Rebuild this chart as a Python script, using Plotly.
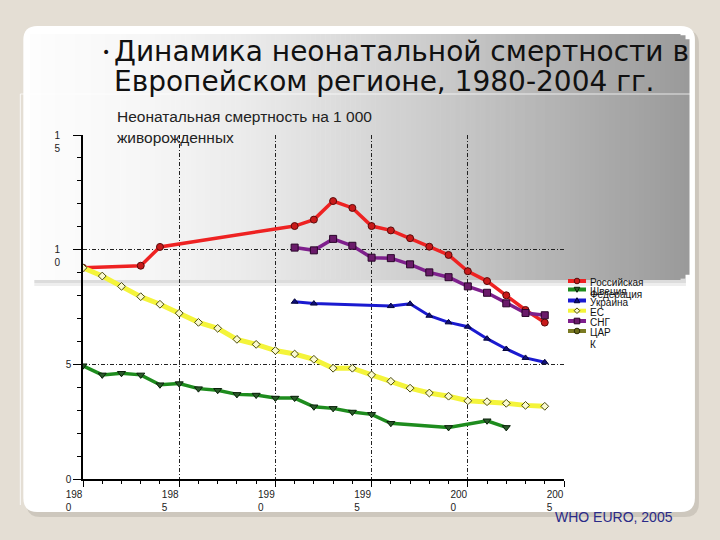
import math
import plotly.graph_objects as go

# ---------------- data ----------------
years_rus = [1980, 1983, 1984, 1991, 1992, 1993, 1994, 1995, 1996, 1997, 1998, 1999, 2000, 2001, 2002, 2003, 2004]
rus = [9.21, 9.30, 10.12, 11.03, 11.31, 12.12, 11.82, 11.03, 10.84, 10.50, 10.13, 9.77, 9.06, 8.63, 8.01, 7.37, 6.82]

years_swe = [1980, 1981, 1982, 1983, 1984, 1985, 1986, 1987, 1988, 1989, 1990, 1991, 1992, 1993, 1994, 1995, 1996, 1999, 2001, 2002]
swe = [4.94, 4.54, 4.61, 4.54, 4.11, 4.16, 3.94, 3.87, 3.69, 3.66, 3.53, 3.53, 3.15, 3.08, 2.92, 2.82, 2.43, 2.25, 2.54, 2.25]

years_ukr = [1991, 1992, 1996, 1997, 1998, 1999, 2000, 2001, 2002, 2003, 2004]
ukr = [7.73, 7.65, 7.54, 7.64, 7.12, 6.83, 6.64, 6.12, 5.67, 5.28, 5.09]

years_eu = list(range(1980, 2005))
eu = [9.21, 8.85, 8.40, 7.95, 7.62, 7.23, 6.83, 6.57, 6.09, 5.87, 5.60, 5.45, 5.22, 4.83, 4.83,
      4.54, 4.26, 3.96, 3.75, 3.61, 3.41, 3.37, 3.30, 3.21, 3.17]

years_cis = list(range(1991, 2005))
cis = [10.09, 9.97, 10.47, 10.17, 9.65, 9.63, 9.36, 9.01, 8.80, 8.40, 8.12, 7.66, 7.24, 7.14]

years_cark = []
cark = []

x_tickvals = [1980, 1985, 1990, 1995, 2000, 2005]
x_ticktext = ["198<br>0", "198<br>5", "199<br>0", "199<br>5", "200<br>0", "200<br>5"]
y_tickvals = [0, 5, 10, 15]
y_ticktext = ["0", "5", "1<br>0", "1<br>5"]

title_lines = ["Динамика неонатальной смертности в", "Европейском регионе, 1980-2004 гг."]
subtitle_lines = ["Неонатальная смертность на 1 000", "живорожденных"]
source_text = "WHO EURO, 2005"

# ---------------- layout geometry (pixels) ----------------
FW, FH = 720, 540
L, R = 82.7, 564.0
T, B = 135.0, 479.0
PW, PH = R - L, B - T


def xp(px):
    return (px - L) / PW


def yp(py):
    return (B - py) / PH


NB = "\u00a0"
x_ticktext = [t + NB * 4 for t in x_ticktext]
y_ticktext_fmt = []
for t in y_ticktext:
    if "<br>" in t:
        parts = t.split("<br>")
        y_ticktext_fmt.append(NB + "<br>" + "<br>".join(p + NB * 4 for p in parts))
    else:
        y_ticktext_fmt.append(t)

series = [
    dict(name="Российская Федерация", x=years_rus, y=rus, color="#ee2222", w=3.5,
         sym="circle", msize=7, mfill="#c81a1a", mline="#5a0a0a"),
    dict(name="Швеция", x=years_swe, y=swe, color="#1e8c1e", w=3.5,
         sym="triangle-down", msize=7, mfill="#2a5a2a", mline="#0a200a"),
    dict(name="Украина", x=years_ukr, y=ukr, color="#1a1ad0", w=3.0,
         sym="triangle-up", msize=6, mfill="#10107a", mline="#05053a"),
    dict(name="ЕС", x=years_eu, y=eu, color="#f4f43a", w=5.0,
         sym="diamond", msize=6, mfill="#fafad0", mline="#4a4a10"),
    dict(name="СНГ", x=years_cis, y=cis, color="#7e1f8c", w=3.5,
         sym="square", msize=7, mfill="#6a1a6a", mline="#2a052a"),
    dict(name="ЦАРК", x=years_cark, y=cark, color="#7a7a22", w=3.5,
         sym="circle", msize=6, mfill="#6a6a1a", mline="#2a2a05"),
]

fig = go.Figure()
for s in series:
    fig.add_trace(go.Scatter(
        x=s["x"], y=s["y"], name=s["name"], mode="lines+markers",
        line=dict(color=s["color"], width=s["w"]),
        marker=dict(symbol=s["sym"], size=s["msize"], color=s["mfill"],
                    line=dict(color=s["mline"], width=1)),
        showlegend=False,
    ))

shapes = []


def rect(x0, y0, x1, y1, color, layer="below"):
    shapes.append(dict(type="rect", xref="paper", yref="paper",
                       x0=xp(x0), x1=xp(x1), y0=yp(y0), y1=yp(y1),
                       fillcolor=color, line=dict(width=0), layer=layer))


def rounded(x0, y0, x1, y1, r, color, layer="below"):
    p = (f"M {xp(x0 + r)},{yp(y0)} L {xp(x1 - r)},{yp(y0)} Q {xp(x1)},{yp(y0)} {xp(x1)},{yp(y0 + r)} "
         f"L {xp(x1)},{yp(y1 - r)} Q {xp(x1)},{yp(y1)} {xp(x1 - r)},{yp(y1)} "
         f"L {xp(x0 + r)},{yp(y1)} Q {xp(x0)},{yp(y1)} {xp(x0)},{yp(y1 - r)} "
         f"L {xp(x0)},{yp(y0 + r)} Q {xp(x0)},{yp(y0)} {xp(x0 + r)},{yp(y0)} Z")
    shapes.append(dict(type="path", xref="paper", yref="paper", path=p,
                       fillcolor=color, line=dict(width=0), layer=layer))


# card shadow + card
rounded(26, 30, 699, 517, 14, "#cdc7bd")
rounded(23, 26, 695, 512, 14, "#ffffff")

# header gradient box
stops = [(30, 253), (150, 246), (250, 234), (350, 218), (450, 200), (550, 180), (689, 154)]


def gray_at(px):
    for (a, ga), (b, gb) in zip(stops[:-1], stops[1:]):
        if a <= px <= b:
            return ga + (gb - ga) * (px - a) / (b - a)
    return stops[-1][1]


# soft shadow under header
rect(34, 279, 686, 283, "#dcdcdc")
rect(34, 283, 686, 286, "#eeeeee")

step = 5
x = 30
rr = 12
while x < 689:
    x2 = min(x + step, 689)
    g = int(round(gray_at((x + x2) / 2)))
    col = f"rgb({g},{g},{g})"
    y0, y1 = 34, 280
    if x2 > 689 - rr:
        t = (x + x2) / 2 - (689 - rr)
        off = rr - math.sqrt(max(rr * rr - t * t, 0))
        y0, y1 = 34 + off, 280 - off
    rect(x, y0, x2 + 0.6, y1, col)
    x = x2

# faint placeholder outlines
shapes.append(dict(type="line", xref="paper", yref="paper", x0=xp(20), x1=xp(690), y0=yp(94), y1=yp(94),
                   line=dict(color="rgba(255,255,255,0.75)", width=1), layer="below"))
shapes.append(dict(type="line", xref="paper", yref="paper", x0=xp(20), x1=xp(20), y0=yp(94), y1=yp(505),
                   line=dict(color="rgba(255,255,255,0.8)", width=1), layer="below"))

# manual legend swatches
leg_line_y = [281, 289.5, 300.5, 310.7, 321, 331]
for s, ly in zip(series, leg_line_y):
    shapes.append(dict(type="line", xref="paper", yref="paper", x0=xp(568), x1=xp(586),
                       y0=yp(ly), y1=yp(ly), line=dict(color=s["color"], width=4), layer="above"))
    cx, r = 577, 2.8
    if s["sym"] == "circle":
        shapes.append(dict(type="circle", xref="paper", yref="paper", x0=xp(cx - r), x1=xp(cx + r),
                           y0=yp(ly + r), y1=yp(ly - r), fillcolor=s["mfill"],
                           line=dict(color=s["mline"], width=1), layer="above"))
    elif s["sym"] == "square":
        shapes.append(dict(type="rect", xref="paper", yref="paper", x0=xp(cx - r), x1=xp(cx + r),
                           y0=yp(ly + r), y1=yp(ly - r), fillcolor=s["mfill"],
                           line=dict(color=s["mline"], width=1), layer="above"))
    else:
        if s["sym"] == "triangle-up":
            pts = [(cx - r, ly + r * 0.8), (cx + r, ly + r * 0.8), (cx, ly - r)]
        elif s["sym"] == "triangle-down":
            pts = [(cx - r, ly - r * 0.8), (cx + r, ly - r * 0.8), (cx, ly + r)]
        else:
            pts = [(cx - r, ly), (cx, ly - r), (cx + r, ly), (cx, ly + r)]
        p = "M " + " L ".join(f"{xp(a)},{yp(b)}" for a, b in pts) + " Z"
        shapes.append(dict(type="path", xref="paper", yref="paper", path=p, fillcolor=s["mfill"],
                           line=dict(color=s["mline"], width=1), layer="above"))

annotations = []


def text(px, py, s, size, color="#111111", family="Liberation Sans, Arial", xanchor="left"):
    annotations.append(dict(xref="paper", yref="paper", x=xp(px), y=yp(py), text=s, showarrow=False,
                            xanchor=xanchor, yanchor="middle", align="left",
                            font=dict(size=size, color=color, family=family)))


leg_text = [(282, "Российская"), (294, "Федерация"), (291.5, "Швеция"), (302, "Украина"),
            (312, "ЕС"), (322.3, "СНГ"), (332.3, "ЦАР"), (344, "К")]
for ty, s in leg_text:
    text(588, ty, s, 10, "#111111")

# title
text(100, 52, "•", 14, "#111111", "DejaVu Sans")
text(112, 51, title_lines[0], 28, "#111111", "DejaVu Sans")
text(112, 82, title_lines[1], 28, "#111111", "DejaVu Sans")
text(115, 117, subtitle_lines[0], 15.5, "#222222")
text(115, 137, subtitle_lines[1], 15.5, "#222222")
text(553, 517, source_text, 14, "#2a2a88")

fig.update_layout(
    width=FW, height=FH,
    margin=dict(l=L, r=FW - R, t=T, b=FH - B, pad=0),
    paper_bgcolor="#e4ded4", plot_bgcolor="rgba(0,0,0,0)",
    shapes=shapes, annotations=annotations, showlegend=False,
    font=dict(family="Liberation Sans, Arial", size=10, color="#222222"),
)
fig.update_xaxes(
    range=[1980, 2005], tickvals=x_tickvals, ticktext=x_ticktext,
    showline=True, linecolor="black", linewidth=1.5,
    ticks="outside", ticklen=6, tickcolor="black", tickwidth=1.2,
    showgrid=True, gridcolor="#222222", gridwidth=1, griddash="4px,2px,1px,2px",
    zeroline=False, ticklabelshift=-9, ticklabelstandoff=-1,
    minor=dict(dtick=1, tick0=1980, ticks="outside", ticklen=3, tickcolor="black", showgrid=False),
    tickfont=dict(size=10, color="#222222"),
)
fig.update_yaxes(
    range=[0, 15], tickvals=y_tickvals, ticktext=y_ticktext_fmt,
    showline=True, linecolor="black", linewidth=1.5,
    ticks="outside", ticklen=8, tickcolor="black", tickwidth=1.2,
    showgrid=True, gridcolor="#222222", gridwidth=1, griddash="4px,2px,1px,2px",
    zeroline=False,
    minor=dict(dtick=1, tick0=0, ticks="outside", ticklen=4, tickcolor="black", showgrid=False),
    tickfont=dict(size=10, color="#222222"),
)

fig.write_html("out.html")
